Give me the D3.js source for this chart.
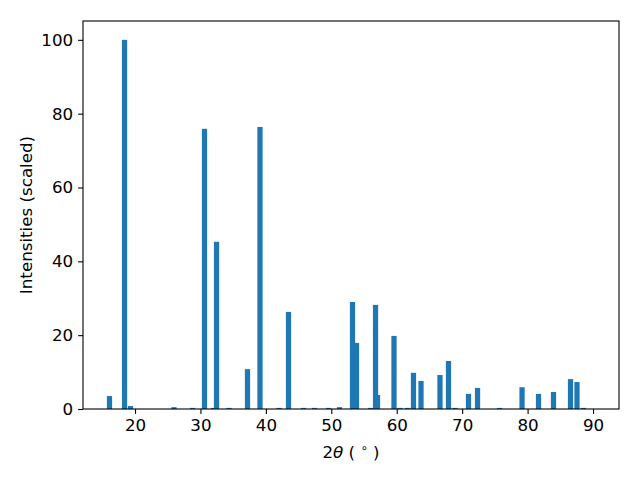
<!DOCTYPE html>
<html>
<head>
<meta charset="utf-8">
<script src="https://cdn.jsdelivr.net/npm/d3@7"></script>
<style>
  body { margin: 0; background: #fff; }
  text { font-family: "DejaVu Sans", sans-serif; font-size: 16.7px; fill: #000; }
</style>
</head>
<body>
<script>
// peak positions (2theta, degrees) and scaled intensities
var angles = [16.10, 18.40, 19.31, 25.96, 28.79, 30.62, 32.00, 32.46, 34.37, 37.19,
              39.10, 42.01, 43.46, 45.75, 47.43, 49.57, 51.25, 53.24, 53.85, 55.99,
              56.76, 57.06, 59.58, 60.50, 61.65, 62.56, 63.71, 66.61, 67.91, 68.90,
              70.97, 72.35, 75.71, 79.15, 81.67, 83.96, 86.56, 87.55, 88.55];
var intensities = [3.5, 100, 0.8, 0.5, 0.3, 75.9, 0.3, 45.3, 0.3, 10.8,
                   76.4, 0.3, 26.3, 0.3, 0.3, 0.3, 0.5, 29.0, 17.9, 0.3,
                   28.2, 3.8, 19.8, 0.3, 0.3, 9.8, 7.6, 9.2, 13.0, 0.3,
                   4.1, 5.7, 0.3, 5.9, 4.1, 4.6, 8.1, 7.3, 0.3];
var xTicks = [20, 30, 40, 50, 60, 70, 80, 90];
var yTicks = [0, 20, 40, 60, 80, 100];
var barWidth = 0.8;

var width = 640, height = 480;
var margin = {top: 21, right: 21, bottom: 71, left: 83};

var svg = d3.select("body").append("svg")
    .attr("width", width)
    .attr("height", height);

var x = d3.scaleLinear()
    .domain([12.05, 93.97])
    .range([margin.left, width - margin.right]);
var y = d3.scaleLinear()
    .domain([0, 105.1])
    .range([height - margin.bottom, margin.top]);

//bars
svg.selectAll(".bar")
    .data(angles)
    .enter()
    .append("rect")
    .attr("class", "bar")
    .attr("x", function(d){ return x(d - barWidth / 2); })
    .attr("width", function(d){ return x(d + barWidth / 2) - x(d - barWidth / 2); })
    .attr("y", function(d, i){ return y(intensities[i]); })
    .attr("height", function(d, i){ return y(0) - y(intensities[i]); })
    .attr("fill", "#1f77b4");

//axes
var xAxis = svg.append("g")
    .attr("transform", "translate(0," + (height - margin.bottom) + ")")
    .call(d3.axisBottom(x).tickValues(xTicks).tickSize(4.9).tickPadding(4.9));
var yAxis = svg.append("g")
    .attr("transform", "translate(" + margin.left + ",0)")
    .call(d3.axisLeft(y).tickValues(yTicks).tickSize(4.9).tickPadding(4.9));
[xAxis, yAxis].forEach(function(g){
    g.attr("font-size", null).attr("font-family", null);
    g.select(".domain").remove();
    g.selectAll("line").attr("stroke", "#000").attr("stroke-width", 1.1);
});

//frame
svg.append("rect")
    .attr("x", margin.left)
    .attr("y", margin.top)
    .attr("width", width - margin.left - margin.right)
    .attr("height", height - margin.top - margin.bottom)
    .attr("fill", "none")
    .attr("stroke", "#000")
    .attr("stroke-width", 1.1);

//labels
var xl = svg.append("text")
    .attr("x", (margin.left + width - margin.right) / 2)
    .attr("y", 458)
    .attr("text-anchor", "middle");
xl.append("tspan").text("2");
xl.append("tspan").attr("font-style", "italic").text("θ");
xl.append("tspan").text(" ( ");
xl.append("tspan").attr("font-size", "11.7px").attr("dy", -6).text("∘");
xl.append("tspan").attr("dy", 6).text(" )");

svg.append("text")
    .attr("transform", "translate(32," + ((margin.top + height - margin.bottom) / 2) + ") rotate(-90)")
    .attr("text-anchor", "middle")
    .text("Intensities (scaled)");
</script>
</body>
</html>
